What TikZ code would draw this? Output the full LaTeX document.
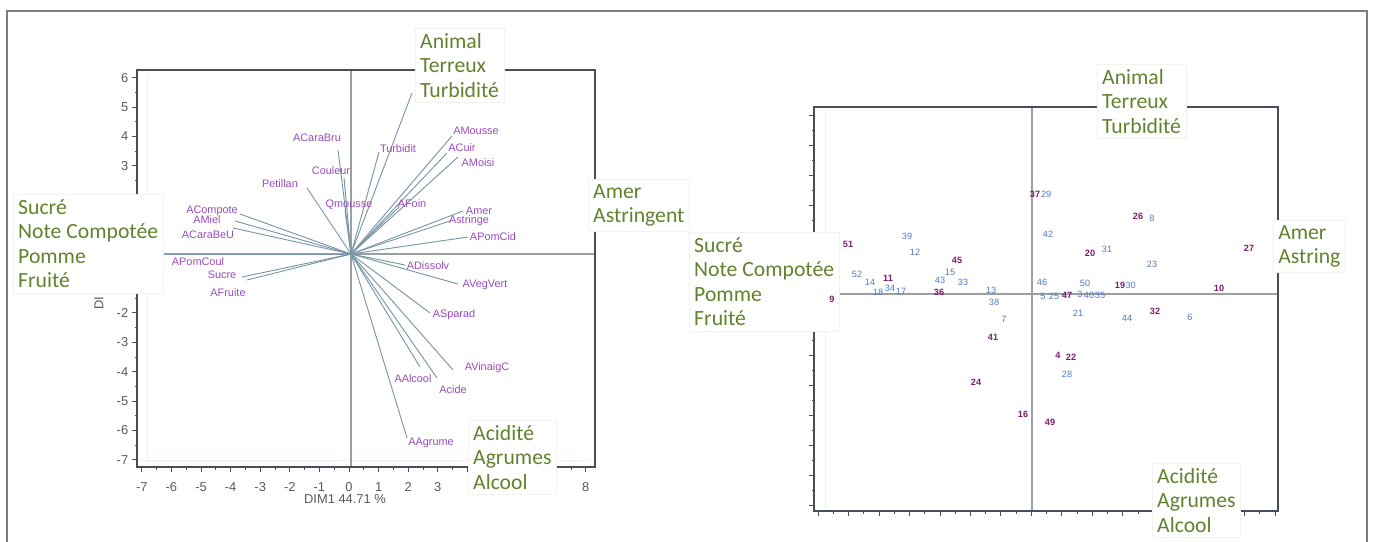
\documentclass[tikz,border=0pt]{standalone}
\usepackage{fontspec}
\newfontfamily\cuefont{Carlito}
\newfontfamily\plotfont{Liberation Sans}
\usetikzlibrary{positioning}
\definecolor{leafgreen}{RGB}{98,130,45}
\definecolor{varplum}{RGB}{155,75,185}
\definecolor{ptplum}{RGB}{120,30,110}
\definecolor{ptblue}{RGB}{80,120,200}
\definecolor{vecgray}{RGB}{120,150,165}
\definecolor{framegray}{RGB}{70,78,90}
\definecolor{zerogray}{RGB}{155,158,162}
\definecolor{outergray}{RGB}{125,125,125}
\tikzset{
  cue/.style={
    fill=white,
    draw=black!5,
    anchor=north west,
    align=left,
    inner sep=0.15cm,
    text=leafgreen,
    font=\cuefont\fontsize{18.5}{21}\selectfont
  },
  varlabel/.style={
    text=varplum,
    inner sep=0.5pt,
    font=\plotfont\fontsize{9.3}{10}\selectfont
  },
  ticklabel/.style={
    text=black!65,
    inner sep=0.5pt,
    font=\plotfont\fontsize{11}{12}\selectfont
  },
  ptA/.style={
    text=ptplum,
    inner sep=0pt,
    font=\plotfont\bfseries\fontsize{7.8}{8}\selectfont
  },
  ptB/.style={
    text=ptblue,
    inner sep=0pt,
    font=\plotfont\fontsize{7.8}{8}\selectfont
  },
  vec/.style={draw=vecgray, line width=0.8pt},
  plotframe/.style={draw=framegray, line width=1.3pt},
  tickmark/.style={draw=framegray, line width=0.6pt},
  zeroline/.style={draw=zerogray, line width=0.9pt},
  faint/.style={draw=red!9, line width=0.3pt}
}

\begin{document}
\begin{tikzpicture}[x=0.03cm, y=-0.03cm]
  \useasboundingbox (0,0) rectangle (1373,542);
  \draw[draw=outergray, line width=1.6pt] (7,542) -- (7,11) -- (1367,11) -- (1367,542);

  % left plot: variables
  \draw[faint] (147,75) -- (147,462);
  \draw[faint] (140,460) -- (590,460);
  \draw[zeroline] (351,70) -- (351,467);
  \draw[zeroline] (137,254) -- (595,254);
  \draw[plotframe] (137,70) rectangle (595,467);
  \foreach \v in {-7,...,6}
    \draw[tickmark] (137,{254-29.4*\v}) -- ++(-5,0);
  \foreach \v in {-6.5,-5.5,...,5.5}
    \draw[tickmark] (137,{254-29.4*\v}) -- ++(-2.5,0);
  \foreach \v in {-7,...,8}
    \draw[tickmark] ({349+29.6*\v},467) -- ++(0,5);
  \foreach \v in {-6.5,-5.5,...,7.5}
    \draw[tickmark] ({349+29.6*\v},467) -- ++(0,2.5);
  \foreach \v in {6,5,4,3,-2,-3,-4,-5,-6,-7}
    \node[ticklabel, anchor=east] (ylab\v) at (129,{254-29.4*\v}) {\v};
  \foreach \v in {-7,...,3,8}
    \node[ticklabel] (xlab\v) at ({349+29.6*\v},487) {\v};
  \node[ticklabel] (xtitle) at (345,499) {DIM1 44.71 \%};
  \node[ticklabel, rotate=90] (ytitle) at (99,303) {DI};

  \coordinate (c) at (351,254);
  \coordinate (eCaraBru) at (338,150);
  \coordinate (eCouleur) at (344,178);
  \coordinate (ePetillan) at (307,188);
  \coordinate (eQmousse) at (345,210);
  \coordinate (eTurbidit) at (379,152);
  \coordinate (eLong) at (412,93);
  \coordinate (eMousse) at (452,136);
  \coordinate (eCuir) at (447,153);
  \coordinate (eMoisi) at (458,157);
  \coordinate (eFoin) at (399,207);
  \coordinate (eAmer) at (463,211);
  \coordinate (eAstringe) at (450,221);
  \coordinate (ePomCid) at (468,237);
  \coordinate (eDissolv) at (405,265);
  \coordinate (eVegVert) at (458,284);
  \coordinate (eSparad) at (430,313);
  \coordinate (eVinaigC) at (453,370);
  \coordinate (eAlcool) at (420,367);
  \coordinate (eAcide) at (437,378);
  \coordinate (eAgrume) at (407,438);
  \coordinate (eCompote) at (240,214);
  \coordinate (eMiel) at (235,221);
  \coordinate (eCaraBeU) at (233,228);
  \coordinate (ePomCoul) at (158,254);
  \coordinate (eSucre) at (242,277);
  \coordinate (eFruite) at (247,280);

  \foreach \e in {eCaraBru,eCouleur,ePetillan,eQmousse,eTurbidit,eLong,eMousse,eCuir,eMoisi,eFoin,eAmer,eAstringe,ePomCid,eDissolv,eVegVert,eSparad,eVinaigC,eAlcool,eAcide,eAgrume,eCompote,eMiel,eCaraBeU,ePomCoul,eSucre,eFruite}
    \draw[vec] (c) -- (\e);

  \node[varlabel] (lCaraBru) at (317,138) {ACaraBru};
  \node[varlabel] (lCouleur) at (331,171) {Couleur};
  \node[varlabel] (lPetillan) at (280,184) {Petillan};
  \node[varlabel] (lQmousse) at (349,205) {Qmousse};
  \node[varlabel] (lTurbidit) at (398,149) {Turbidit};
  \node[varlabel] (lMousse) at (476,131) {AMousse};
  \node[varlabel] (lCuir) at (462,148) {ACuir};
  \node[varlabel] (lMoisi) at (478,163) {AMoisi};
  \node[varlabel] (lFoin) at (412,204) {AFoin};
  \node[varlabel] (lAmer) at (479,211) {Amer};
  \node[varlabel] (lAstringe) at (469,221) {Astringe};
  \node[varlabel] (lPomCid) at (493,237) {APomCid};
  \node[varlabel] (lDissolv) at (428,266) {ADissolv};
  \node[varlabel] (lVegVert) at (485,285) {AVegVert};
  \node[varlabel] (lSparad) at (454,315) {ASparad};
  \node[varlabel] (lVinaigC) at (487,368) {AVinaigC};
  \node[varlabel] (lAlcool) at (413,379) {AAlcool};
  \node[varlabel] (lAcide) at (453,390) {Acide};
  \node[varlabel] (lAgrume) at (431,443) {AAgrume};
  \node[varlabel] (lCompote) at (212,211) {ACompote};
  \node[varlabel] (lMiel) at (207,220) {AMiel};
  \node[varlabel] (lCaraBeU) at (208,235) {ACaraBeU};
  \node[varlabel] (lPomCoul) at (198,262) {APomCoul};
  \node[varlabel] (lSucre) at (222,275) {Sucre};
  \node[varlabel] (lFruite) at (228,293) {AFruite};

  \node[cue] (sweetL) at (13,194) {Sucré\\Note Compotée\\Pomme\\Fruité};
  \node[cue] (animalL) at (415,28) {Animal\\Terreux\\Turbidité};
  \node[cue] (bitterL) at (588,179) {Amer\\Astringent};
  \node[cue] (acidL) at (468,420) {Acidité\\Agrumes\\Alcool};

  % right plot: products
  \draw[faint] (825,112) -- (825,508);
  \draw[zeroline] (1032,107) -- (1032,511);
  \draw[zeroline] (814,294) -- (1278,294);
  \draw[plotframe] (814,107) rectangle (1278,511);
  \foreach \k in {0,...,13}
    \draw[tickmark] (814,{505-30*\k}) -- ++(-5,0);
  \foreach \k in {0,...,12}
    \draw[tickmark] (814,{490-30*\k}) -- ++(-2.5,0);
  \foreach \k in {0,...,15}
    \draw[tickmark] ({818+30.47*\k},511) -- ++(0,5);
  \foreach \k in {0,...,14}
    \draw[tickmark] ({833.2+30.47*\k},511) -- ++(0,2.5);

  \node[cue] (sweetR) at (689,232) {Sucré\\Note Compotée\\Pomme\\Fruité};
  \node[cue] (animalR) at (1097,64) {Animal\\Terreux\\Turbidité};
  \node[cue] (bitterR) at (1273,220) {Amer\\Astring};
  \node[cue] (acidR) at (1152,463) {Acidité\\Agrumes\\Alcool};

  \node[ptA] (p51) at (848,244) {51};
  \node[ptB] (p39) at (907,236) {39};
  \node[ptB] (p12) at (915,252) {12};
  \node[ptA] (p45) at (957,260) {45};
  \node[ptB] (p52) at (857,274) {52};
  \node[ptB] (p14) at (870,282) {14};
  \node[ptA] (p11) at (888,278) {11};
  \node[ptB] (p18) at (878,292) {18};
  \node[ptB] (p34) at (890,288) {34};
  \node[ptB] (p17) at (901,291) {17};
  \node[ptB] (p15) at (950,272) {15};
  \node[ptB] (p43) at (940,280) {43};
  \node[ptB] (p33) at (963,282) {33};
  \node[ptA] (p36) at (939,292) {36};
  \node[ptB] (p13) at (991,290) {13};
  \node[ptB] (p38) at (994,302) {38};
  \node[ptB] (p7) at (1004,319) {7};
  \node[ptA] (p41) at (993,337) {41};
  \node[ptA] (p9) at (832,299) {9};
  \node[ptA] (p24) at (976,382) {24};
  \node[ptA] (p16) at (1023,414) {16};
  \node[ptA] (p49) at (1050,422) {49};
  \node[ptA] (p37) at (1035,194) {37};
  \node[ptB, right=0.5pt of p37] (p29) {29};
  \node[ptA] (p26) at (1138,216) {26};
  \node[ptB] (p8) at (1152,218) {8};
  \node[ptB] (p42) at (1048,234) {42};
  \node[ptA] (p20) at (1090,253) {20};
  \node[ptB] (p31) at (1107,249) {31};
  \node[ptB] (p23) at (1152,264) {23};
  \node[ptA] (p27) at (1249,248) {27};
  \node[ptB] (p46) at (1042,282) {46};
  \node[ptB] (p50) at (1085,283) {50};
  \node[ptB] (p5) at (1043,296) {5};
  \node[ptB] (p25) at (1054,296) {25};
  \node[ptA] (p47) at (1067,295) {47};
  \node[ptB] (p3) at (1080,294) {3};
  \node[ptB] (p40) at (1089,295) {40};
  \node[ptB] (p35) at (1100,295) {35};
  \node[ptA] (p19) at (1120,285) {19};
  \node[ptB, right=0pt of p19] (p30) {30};
  \node[ptA] (p10) at (1219,288) {10};
  \node[ptB] (p21) at (1078,313) {21};
  \node[ptB] (p44) at (1127,318) {44};
  \node[ptA] (p32) at (1155,311) {32};
  \node[ptB] (p6) at (1190,317) {6};
  \node[ptA] (p4) at (1058,355) {4};
  \node[ptA] (p22) at (1071,357) {22};
  \node[ptB] (p28) at (1067,374) {28};
\end{tikzpicture}
\end{document}
